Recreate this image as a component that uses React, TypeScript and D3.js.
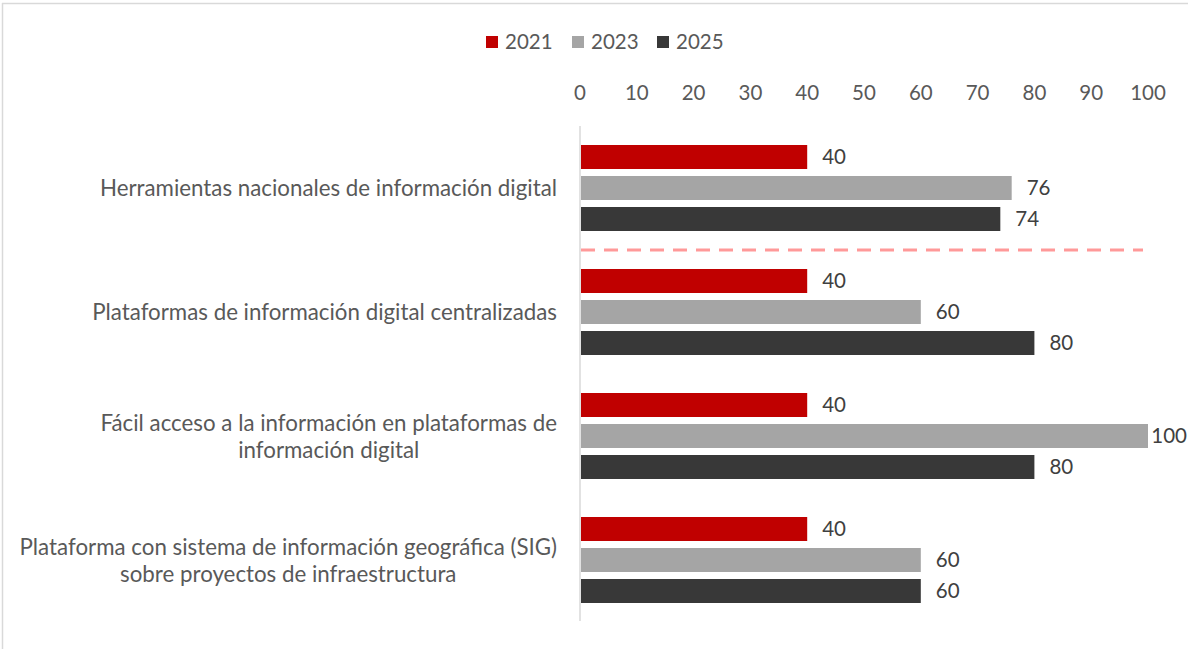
import React, { useEffect, useRef } from "react";
import * as d3 from "d3";

const categories: string[][] = [
  ["Herramientas nacionales de información digital"],
  ["Plataformas de información digital centralizadas"],
  ["Fácil acceso a la información en plataformas de", "información digital"],
  ["Plataforma con sistema de información geográfica (SIG)", "sobre proyectos de infraestructura"],
];
const seriesNames = ["2021", "2023", "2025"];
const values2021 = [40, 40, 40, 40];
const values2023 = [76, 60, 100, 60];
const values2025 = [74, 80, 80, 60];
const tickValues = [0, 10, 20, 30, 40, 50, 60, 70, 80, 90, 100];
const colors = ["#C00000", "#A5A5A5", "#383838"];

const W = 1188;
const H = 649;
const FONT = "Lato, 'Open Sans', sans-serif";

export default function App() {
  const ref = useRef<SVGSVGElement>(null);
  useEffect(() => {
    const svg = d3.select(ref.current);
    svg.selectAll("*").remove();
    const series = [values2021, values2023, values2025];

    const x = d3.scaleLinear().domain([0, 100]).range([580, 1148]);
    const catKeys = categories.map((_, i) => String(i));
    const y = d3.scaleBand().domain(catKeys).range([126, 622]).padding(0);
    const inner = d3.scaleBand().domain(seriesNames).range([-43, 43]).paddingInner(7 / 31).paddingOuter(0);

    // border
    svg.append("line").attr("x1", 2.5).attr("x2", 2.5).attr("y1", 3).attr("y2", H).attr("stroke", "#d9d9d9").attr("stroke-width", 1.5);
    svg.append("line").attr("x1", 2).attr("x2", W).attr("y1", 3.5).attr("y2", 3.5).attr("stroke", "#d9d9d9").attr("stroke-width", 1.5);

    // legend
    const legendX = [486, 572, 657];
    seriesNames.forEach((s, i) => {
      const g = svg.append("g").attr("transform", `translate(${legendX[i]},0)`);
      g.append("rect").attr("x", 0).attr("y", 36).attr("width", 12).attr("height", 12).attr("fill", colors[i]);
      g.append("text").attr("x", 19).attr("y", 49).attr("font-family", FONT).attr("font-size", 20.5).attr("fill", "#595959").text(s);
    });

    // ticks
    svg.append("g").selectAll("text").data(tickValues).join("text")
      .attr("x", (d) => x(d)).attr("y", 100).attr("text-anchor", "middle")
      .attr("font-family", FONT).attr("font-size", 20.5).attr("fill", "#595959").text((d) => String(d));

    // axis line
    svg.append("line").attr("x1", x(0)).attr("x2", x(0)).attr("y1", 126).attr("y2", 621).attr("stroke", "#d9d9d9").attr("stroke-width", 1.5);

    // bars
    catKeys.forEach((k, ci) => {
      const c = (y(k) as number) + y.bandwidth() / 2;
      seriesNames.forEach((s, si) => {
        const v = series[si][ci];
        const by = c + (inner(s) as number);
        svg.append("rect").attr("x", x(0) + 1).attr("y", by).attr("width", x(v) - x(0) - 1).attr("height", inner.bandwidth()).attr("fill", colors[si]);
        const t = svg.append("text").attr("y", by + inner.bandwidth() / 2).attr("dy", "0.35em")
          .attr("font-family", FONT).attr("font-size", 20.5).attr("fill", "#404040").text(String(v));
        const tw = (t.node() as SVGTextElement).getComputedTextLength();
        t.attr("x", Math.min(x(v) + 15, W - tw - 1));
      });
      // category label
      const lines = categories[ci];
      const g = svg.append("g");
      const texts = lines.map((ln, li) =>
        g.append("text").attr("y", c + (li - (lines.length - 1) / 2) * 27 + 8)
          .attr("text-anchor", "middle").attr("font-family", FONT).attr("font-size", 22.3).attr("fill", "#595959").text(ln)
      );
      const maxW = d3.max(texts, (t) => (t.node() as SVGTextElement).getComputedTextLength()) as number;
      texts.forEach((t) => t.attr("x", 557 - maxW / 2));
    });

    // dashed separator
    const sepY = y("1") as number;
    svg.append("line").attr("x1", x(0) + 1).attr("x2", 1143).attr("y1", sepY).attr("y2", sepY)
      .attr("stroke", "#FF9999").attr("stroke-width", 3).attr("stroke-dasharray", "14,9");
  }, []);
  return (
    <svg ref={ref} width={W} height={H} style={{ position: "absolute", left: 0, top: 0, background: "#fff" }} />
  );
}
